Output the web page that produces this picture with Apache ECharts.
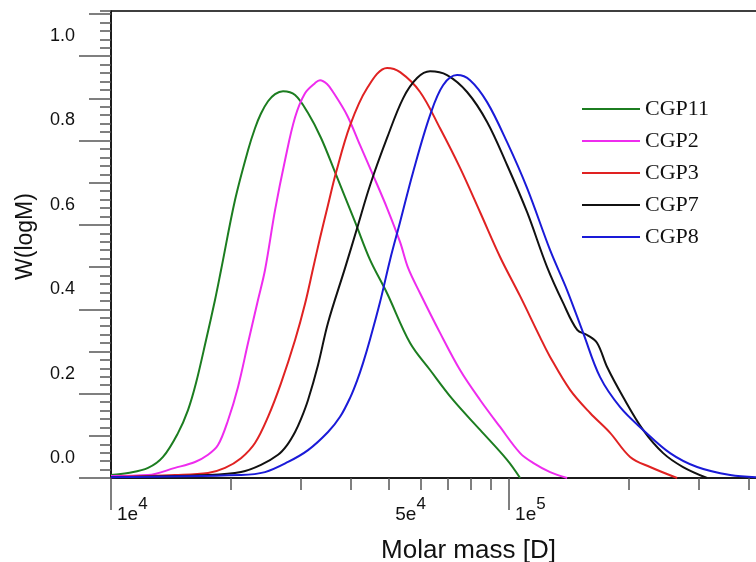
<!DOCTYPE html>
<html>
<head>
<meta charset="utf-8">
<script src="https://cdn.jsdelivr.net/npm/echarts@6/dist/echarts.min.js"></script>
<style>
html, body { margin: 0; padding: 0; background: #fff; }
#chart { width: 756px; height: 562px; }
</style>
</head>
<body>
<div id="chart"></div>
<script>
// [molar mass (D), W(logM)]
const cgp11 = [[10000, 0.007], [11030, 0.012], [12390, 0.024], [13510, 0.050], [14740, 0.107], [15610, 0.161],
  [16350, 0.225], [17330, 0.327], [18250, 0.422], [18900, 0.493], [20490, 0.659], [22090, 0.777], [23000, 0.829],
  [23810, 0.864], [24800, 0.893], [25830, 0.910], [27050, 0.917], [29000, 0.908], [31260, 0.865], [33700, 0.806],
  [36540, 0.725], [41030, 0.607], [44750, 0.517], [49370, 0.438], [56410, 0.320], [63320, 0.256], [72320, 0.185],
  [84570, 0.114], [98850, 0.043], [106600, 0.0]];
const cgp2 = [[10000, 0.005], [12390, 0.007], [14480, 0.024], [16260, 0.038], [17530, 0.055], [18570, 0.078],
  [19680, 0.137], [20850, 0.216], [22090, 0.320], [23400, 0.422], [24370, 0.493], [25830, 0.635], [27370, 0.754],
  [29000, 0.855], [30720, 0.912], [32540, 0.936], [33500, 0.943], [34890, 0.934], [36120, 0.915], [39170, 0.860],
  [42230, 0.789], [45530, 0.718], [49370, 0.640], [53240, 0.559], [55760, 0.498], [59760, 0.438], [67080, 0.344],
  [75310, 0.256], [84570, 0.185], [94930, 0.121], [106600, 0.059], [114900, 0.036], [126800, 0.014], [139900, 0.0]];
const cgp3 = [[10000, 0.002], [14480, 0.007], [17530, 0.012], [19340, 0.024], [21210, 0.047], [23000, 0.083],
  [24800, 0.145], [26740, 0.225], [29000, 0.327], [30720, 0.413], [32170, 0.496], [33500, 0.569], [35090, 0.647],
  [36750, 0.724], [39860, 0.836], [43980, 0.924], [49370, 0.972], [53240, 0.962], [59760, 0.915], [67080, 0.829],
  [75310, 0.735], [84570, 0.630], [94930, 0.524], [106600, 0.431], [119600, 0.334], [126800, 0.287],
  [142300, 0.209], [159800, 0.154], [179400, 0.107], [201400, 0.050], [226100, 0.026], [264300, 0.0]];
const cgp7 = [[10000, 0.002], [17530, 0.007], [21210, 0.014], [23810, 0.031], [26280, 0.055], [27690, 0.078],
  [29000, 0.109], [30020, 0.140], [31260, 0.185], [33120, 0.268], [35090, 0.368], [38730, 0.498], [41510, 0.592],
  [44750, 0.694], [49370, 0.806], [54170, 0.900], [58730, 0.948], [63320, 0.964], [69850, 0.955], [78430, 0.915],
  [88060, 0.844], [98850, 0.742], [111000, 0.630], [124600, 0.500], [136700, 0.415], [148300, 0.351],
  [157000, 0.339], [166400, 0.320], [176300, 0.263], [193400, 0.192], [217100, 0.114], [243800, 0.059],
  [273600, 0.026], [314400, 0.0]];
const cgp8 = [[10000, 0.002], [21210, 0.007], [24370, 0.014], [27850, 0.038], [31260, 0.066], [35090, 0.109],
  [37620, 0.145], [39860, 0.190], [41510, 0.231], [42980, 0.273], [44750, 0.329], [47410, 0.417], [50230, 0.517],
  [53240, 0.607], [57390, 0.725], [63320, 0.860], [68260, 0.931], [74010, 0.955], [79800, 0.943], [88060, 0.891],
  [98850, 0.796], [111000, 0.687], [126800, 0.540], [139900, 0.445], [153500, 0.344], [169300, 0.239],
  [190100, 0.168], [217100, 0.114], [253800, 0.059], [296800, 0.026], [359300, 0.007], [417400, 0.002]];

const seriesNames = ['CGP11', 'CGP2', 'CGP3', 'CGP7', 'CGP8'];
const seriesData = [cgp11, cgp2, cgp3, cgp7, cgp8];
const seriesColors = ['#1c7d20', '#ee2cee', '#e02222', '#111111', '#1a1ad8'];

// tick values
const xLabelValues = [1e4, 5e4, 1e5];
const xMajorTicks = [1e4, 1e5];
const xMinorTicks = [2e4, 3e4, 4e4, 5e4, 6e4, 7e4, 8e4, 9e4, 2e5, 3e5, 4e5];
const yLabelValues = [0, 0.2, 0.4, 0.6, 0.8, 1.0];
const yMidTicks = [0.1, 0.3, 0.5, 0.7, 0.9, 1.1];

const chart = echarts.init(document.getElementById('chart'));

const xBase = { type: 'log', gridIndex: 0, position: 'bottom', min: 1e4, max: 422000, splitLine: { show: false } };
const yBase = { type: 'value', gridIndex: 0, position: 'left', min: 0, max: 1.107, splitLine: { show: false } };

const option = {
  animation: false,
  backgroundColor: '#fff',
  grid: {
    left: 111, right: -2, top: 11, bottom: 84,
    outerBoundsMode: 'none',
    show: true, borderColor: '#000', borderWidth: 1.5
  },
  legend: {
    orient: 'vertical',
    left: 582,
    top: 98,
    padding: 0,
    icon: 'rect',
    itemWidth: 58,
    itemHeight: 2,
    itemGap: 10,
    textStyle: { fontFamily: 'Liberation Serif', fontSize: 22, lineHeight: 22, color: '#111' },
    data: seriesNames
  },
  xAxis: [
    Object.assign({}, xBase, {
      name: 'Molar mass [D]',
      nameLocation: 'middle',
      nameGap: 60,
      nameTextStyle: { fontFamily: 'Liberation Sans', fontSize: 26, color: '#111', padding: [0, 0, 0, 68] },
      axisLine: { show: true, lineStyle: { color: '#111', width: 1.5 } },
      axisTick: { show: true, customValues: xMajorTicks, length: 32, lineStyle: { color: '#555', width: 1.5 } },
      axisLabel: {
        show: true,
        customValues: xLabelValues,
        align: 'left',
        verticalAlign: 'top',
        margin: 18,
        padding: [0, 0, 0, 6],
        formatter: function (v) {
          const e = Math.floor(Math.log10(v) + 1e-9);
          const m = Math.round(v / Math.pow(10, e));
          return '{b|' + m + 'e}{s|' + e + '}';
        },
        rich: {
          b: { fontFamily: 'Liberation Sans', fontSize: 19, lineHeight: 28, verticalAlign: 'bottom', color: '#111' },
          s: { fontFamily: 'Liberation Sans', fontSize: 17, lineHeight: 28, verticalAlign: 'top', color: '#111' }
        }
      }
    }),
    Object.assign({}, xBase, {
      axisLine: { show: false },
      axisTick: { show: true, customValues: xMinorTicks, length: 12, lineStyle: { color: '#555', width: 1.5 } },
      axisLabel: { show: false }
    })
  ],
  yAxis: [
    Object.assign({}, yBase, {
      name: 'W(logM)',
      nameLocation: 'middle',
      nameGap: 74,
      nameTextStyle: { fontFamily: 'Liberation Sans', fontSize: 23, color: '#111', padding: [0, 0, 0, 16] },
      axisLine: { show: true, lineStyle: { color: '#111', width: 1.5 } },
      axisTick: { show: true, customValues: yLabelValues, length: 32, lineStyle: { color: '#555', width: 1.5 } },
      axisLabel: {
        customValues: yLabelValues,
        margin: 36,
        verticalAlign: 'bottom',
        lineHeight: 40,
        fontFamily: 'Liberation Sans',
        fontSize: 18,
        color: '#111',
        formatter: function (v) { return v.toFixed(1); }
      }
    }),
    Object.assign({}, yBase, {
      axisLine: { show: false },
      axisTick: { show: true, customValues: yMidTicks, length: 22, lineStyle: { color: '#555', width: 1.5 } },
      axisLabel: { show: false }
    }),
    Object.assign({}, yBase, {
      interval: 0.02,
      axisLine: { show: false },
      axisTick: { show: true, length: 11, lineStyle: { color: '#555', width: 1.5 } },
      axisLabel: { show: false }
    })
  ],
  series: seriesNames.map(function (name, i) {
    return {
      name: name,
      type: 'line',
      xAxisIndex: 0,
      yAxisIndex: 0,
      data: seriesData[i],
      symbol: 'none',
      smooth: 0.35,
      color: seriesColors[i],
      lineStyle: { width: 2, color: seriesColors[i] }
    };
  })
};

chart.setOption(option);
</script>
</body>
</html>
